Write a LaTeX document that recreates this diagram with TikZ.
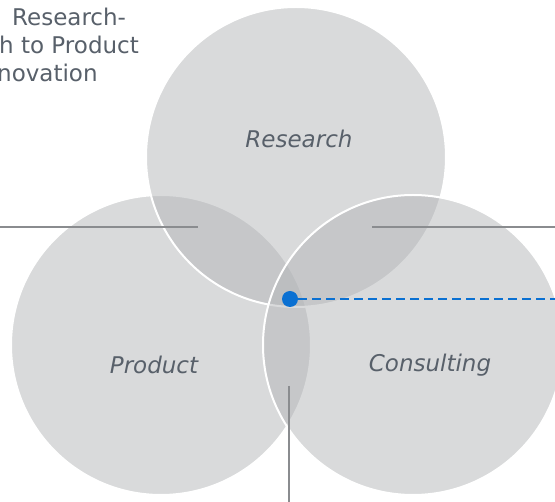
\documentclass[tikz,border=0pt]{standalone}
\usepackage{fontspec}
\setmainfont{DejaVu Sans}
\definecolor{circfill}{RGB}{180,182,185}
\definecolor{labeltext}{RGB}{88,96,106}
\definecolor{leadgray}{RGB}{138,140,143}
\definecolor{dotblue}{RGB}{10,112,210}
\begin{document}
\begin{tikzpicture}[x=1pt,y=-1pt,
  venn/.style={circle, minimum size=300pt, inner sep=0pt, fill=circfill, fill opacity=0.5, draw=white, line width=2pt},
  vlabel/.style={font=\fontsize{23}{28}\selectfont\itshape, text=labeltext, inner sep=0pt},
  titletext/.style={font=\fontsize{23}{28}\selectfont, text=labeltext, inner sep=0pt, anchor=base west},
  leader/.style={draw=leadgray, line width=1.5pt},
  bluedash/.style={draw=dotblue, line width=2.5pt, dash pattern=on 9pt off 5pt},
  bluedot/.style={circle, fill=dotblue, minimum size=16pt, inner sep=0pt}]
\useasboundingbox (0,0) rectangle (555,502);
\fill[white] (0,0) rectangle (555,502);
% circles
\node[venn] (product) at (161,345) {};
\node[venn] (research) at (296,157) {};
\node[venn] (consulting) at (413,345) {};
% labels
\node[vlabel] (lres) at (299,139) {Research};
\node[vlabel] (lprod) at (154,365) {Product};
\node[vlabel] (lcons) at (430,365) {Consulting};
% title (cropped)
\node[titletext] (t1) at (12,26) {Research-};
\node[titletext] (t2) at (-1,54) {h to Product};
\node[titletext] (t3) at (-3,82) {novation};
% leader lines
\coordinate (lA) at (0,227);
\coordinate (lB) at (198,227);
\coordinate (rA) at (372,227);
\coordinate (rB) at (555,227);
\coordinate (bA) at (289,386);
\coordinate (bB) at (289,502);
\draw[leader] (lA) -- (lB);
\draw[leader] (rA) -- (rB);
\draw[leader] (bA) -- (bB);
% blue marker
\node[bluedot] (dot) at (290,299) {};
\coordinate (dashend) at (555,299);
\draw[bluedash] (dot.east) -- (dashend);
\end{tikzpicture}
\end{document}
